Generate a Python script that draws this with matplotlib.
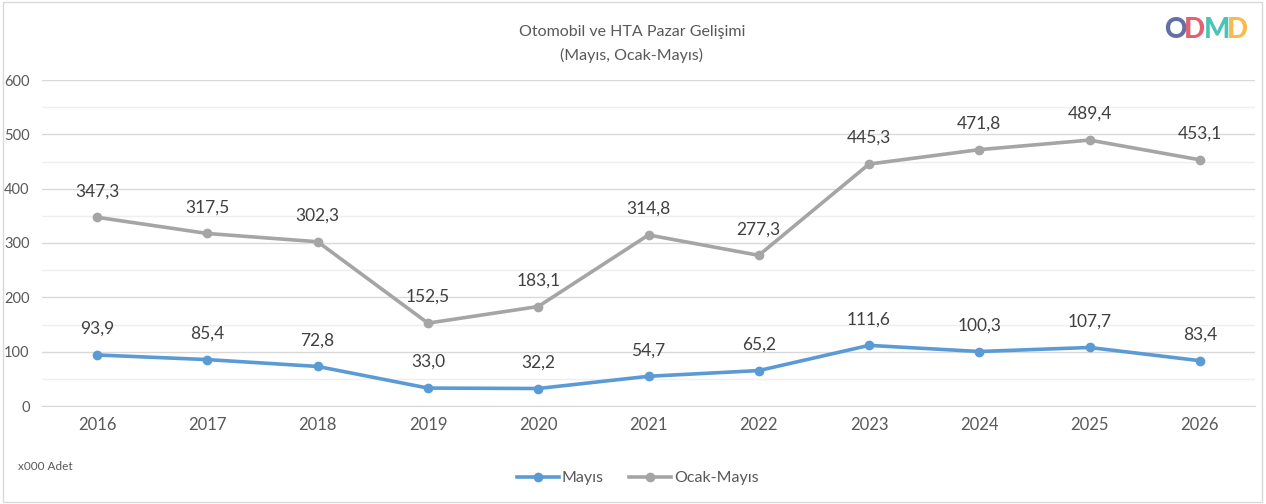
#!/usr/bin/env python3
"""Otomobil ve HTA pazar gelisimi - line chart."""

import matplotlib
matplotlib.use("Agg")
import matplotlib.pyplot as plt
from matplotlib.patches import Rectangle

years = ["2016", "2017", "2018", "2019", "2020", "2021",
         "2022", "2023", "2024", "2025", "2026"]
mayis = [93.9, 85.4, 72.8, 33.0, 32.2, 54.7, 65.2, 111.6, 100.3, 107.7, 83.4]
ocak_mayis = [347.3, 317.5, 302.3, 152.5, 183.1, 314.8, 277.3, 445.3, 471.8, 489.4, 453.1]

BLUE = "#5b9bd5"
GREY = "#a5a5a5"
TEXT = "#595959"
LABEL = "#404040"

plt.rcParams["font.family"] = ["Lato", "DejaVu Sans"]

W, H = 1266, 504
fig = plt.figure(figsize=(W / 100, H / 100), dpi=100)
fig.patches.append(Rectangle((0.002, 0.003), 0.995, 0.993, transform=fig.transFigure,
                             fill=False, edgecolor="#d9d9d9", linewidth=1))

ax = fig.add_axes([42 / W, 1 - 406 / H, (1255 - 42) / W, (406 - 80) / H])
x = list(range(len(years)))

ax.plot(x, mayis, color=BLUE, lw=2.6, marker="o", ms=6, label="Mayıs", zorder=3)
ax.plot(x, ocak_mayis, color=GREY, lw=2.6, marker="o", ms=6, label="Ocak-Mayıs", zorder=3)

for series in (mayis, ocak_mayis):
    for xi, v in zip(x, series):
        ax.annotate(f"{v:.1f}".replace(".", ","), (xi, v), xytext=(0, 13),
                    textcoords="offset points", ha="center", va="bottom",
                    fontsize=12.5, color=LABEL)

ax.set_xlim(-0.5, len(years) - 0.5)
ax.set_ylim(0, 600)
ax.set_yticks(range(0, 601, 100))
ax.set_yticks(range(50, 600, 100), minor=True)
ax.set_xticks(x)
ax.set_xticklabels(years)
ax.grid(axis="y", which="major", color="#d9d9d9", lw=1)
ax.grid(axis="y", which="minor", color="#efefef", lw=1)
ax.set_axisbelow(True)
for s in ("top", "right", "left"):
    ax.spines[s].set_visible(False)
ax.spines["bottom"].set_color("#d9d9d9")
ax.tick_params(axis="y", which="both", length=0, labelsize=10.5, labelcolor=TEXT, pad=9)
ax.tick_params(axis="x", length=0, labelsize=12, labelcolor=TEXT, pad=8)

fig.text(632 / W, 1 - 32 / H, "Otomobil ve HTA Pazar Gelişimi", ha="center", va="center",
         fontsize=11.5, color=TEXT)
fig.text(632 / W, 1 - 55 / H, "(Mayıs, Ocak-Mayıs)", ha="center", va="center",
         fontsize=11.5, color=TEXT)
fig.text(18 / W, 1 - 466 / H, "x000 Adet", ha="left", va="center", fontsize=8.5, color=TEXT)

leg = fig.legend(loc="center", bbox_to_anchor=(638 / W, 1 - 478 / H), ncol=2, frameon=False,
                 fontsize=11.5, handlelength=2.6, columnspacing=1.6, handletextpad=0.2)
for t in leg.get_texts():
    t.set_color(TEXT)

# logo
logo = [("O", "#51609a", 1164), ("D", "#e0505f", 1184), ("M", "#35bfae", 1204), ("D", "#f7b33b", 1227)]
for ch, col, px in logo:
    fig.text(px / W, 1 - 30 / H, ch, ha="left", va="center", fontsize=20, fontweight="black",
             color=col, alpha=0.9)

fig.savefig("out.png", dpi=100)
